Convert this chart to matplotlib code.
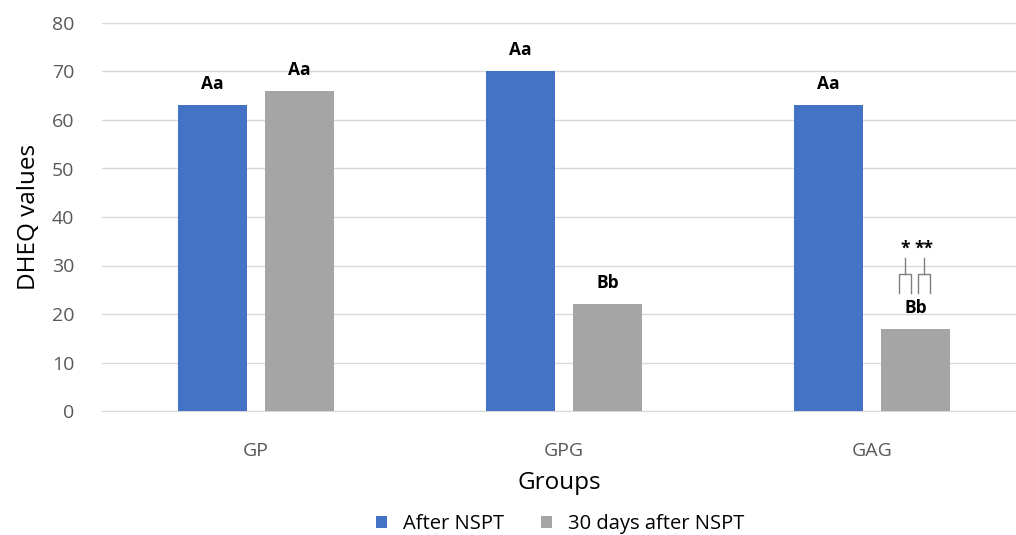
import matplotlib.pyplot as plt
import numpy as np

plt.rcParams['font.family'] = ['Open Sans', 'DejaVu Sans']

groups = ['GP', 'GPG', 'GAG']
after_nspt = [63, 70, 63]
after_30_days = [66, 22, 17]
labels_after = ['Aa', 'Aa', 'Aa']
labels_30 = ['Aa', 'Bb', 'Bb']

fig = plt.figure(figsize=(10.16, 5.35), dpi=100)
ax = fig.add_axes([102 / 1016, (535 - 411) / 535, 914 / 1016, 388 / 535])
ax.set_ylim(0, 80)
ax.set_xlim(-0.5, -0.5 + 914 / 308)

x = np.arange(len(groups))
w = 0.224
off = 0.142
b1 = ax.bar(x - off, after_nspt, w, color='#4472c4', label='After NSPT', zorder=3)
b2 = ax.bar(x + off, after_30_days, w, color='#a5a5a5', label='30 days after NSPT', zorder=3)

for bars, labs in ((b1, labels_after), (b2, labels_30)):
    for r, t in zip(bars, labs):
        ax.annotate(t, (r.get_x() + r.get_width() / 2, r.get_height()),
                    xytext=(0, 21), textcoords='offset pixels',
                    ha='center', va='center', fontsize=12.5, fontweight='bold')

# significance brackets over GAG 30-day bar (pixel offsets from the bar top)
r = b2[2]
cx = r.get_x() + r.get_width() / 2
top = r.get_height()
px0 = ax.transData.transform((cx, top))
inv = ax.transData.inverted()


def pix(dx, dy):
    return inv.transform((px0[0] + dx, px0[1] + dy))


for sx, star in ((-11, '*'), (8, '**')):
    pts = [pix(sx - 6, 36), pix(sx - 6, 55), pix(sx + 6, 55), pix(sx + 6, 36)]
    ax.plot([p[0] for p in pts], [p[1] for p in pts], color='#7f7f7f', lw=1, zorder=4)
    s0, s1 = pix(sx, 55), pix(sx, 71)
    ax.plot([s0[0], s1[0]], [s0[1], s1[1]], color='#7f7f7f', lw=1, zorder=4)
    sp = pix(sx, 80)
    ax.text(sp[0], sp[1], star, ha='center', va='center', fontsize=12.5, fontweight='bold')

ax.set_yticks(np.arange(0, 81, 10))
ax.set_xticks(x)
ax.set_xticklabels(groups)
ax.grid(axis='y', color='#d9d9d9', lw=1, zorder=0)
for s in ('top', 'right', 'left'):
    ax.spines[s].set_visible(False)
ax.spines['bottom'].set_color('#d9d9d9')
ax.tick_params(axis='both', length=0, labelsize=14, colors='#595959')
ax.tick_params(axis='x', pad=22)
ax.tick_params(axis='y', pad=20)
ax.set_ylabel('DHEQ values', fontsize=17.5, labelpad=8)
ax.set_xlabel('Groups', fontsize=17.5, labelpad=8)

fig.legend(handles=[b1, b2], loc='center', bbox_to_anchor=(560 / 1016, 1 - 524 / 535),
           ncol=2, frameon=False, fontsize=14.5, handlelength=0.55, handleheight=0.55,
           columnspacing=1.8, handletextpad=0.8)

fig.savefig('out.png', dpi=100)
